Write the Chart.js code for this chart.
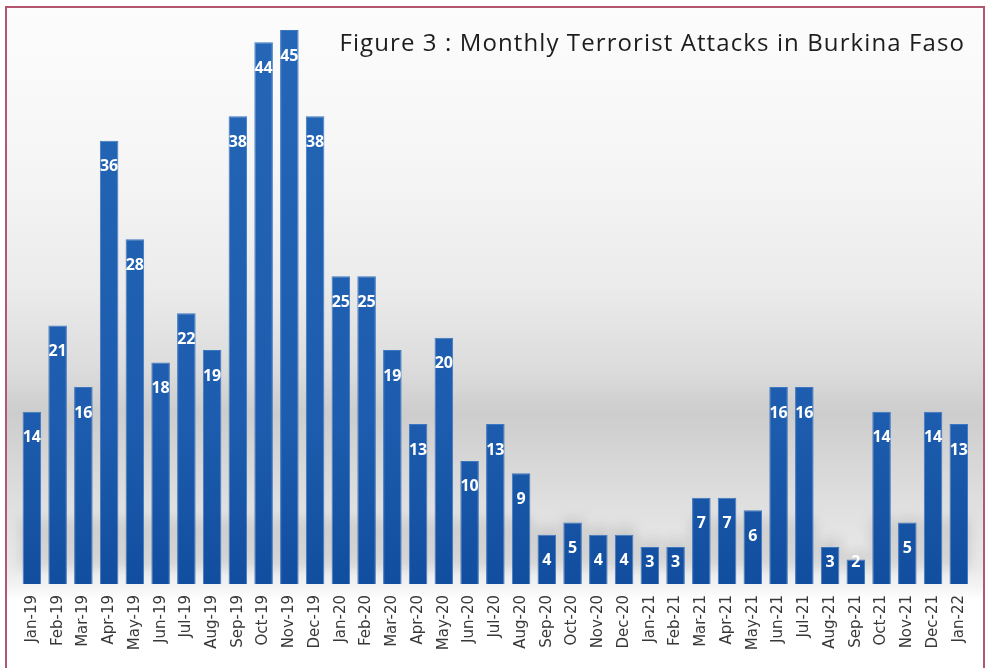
<!DOCTYPE html>
<html>
<head>
<meta charset="utf-8">
<title>Monthly Terrorist Attacks in Burkina Faso</title>
<script src="https://cdn.jsdelivr.net/npm/chart.js@4/dist/chart.umd.min.js"></script>
<style>
  html, body { margin: 0; padding: 0; background: #fff; }
  #page {
    position: relative; width: 988px; height: 668px; overflow: hidden;
    background: #fff;
  }
  #panel {
    position: absolute; left: 5px; top: 6px; width: 980px; height: 680px;
    box-sizing: border-box; border: 2px solid #b3566f;
    background: linear-gradient(to bottom,
      #fcfcfc 0px, #f6f6f6 150px, #ebebeb 280px, #dcdcdc 360px,
      #cdcdcd 405px, #d4d4d4 440px, #e0e0e0 500px, #eaeaea 560px,
      #f3f3f3 578px, #ffffff 592px, #ffffff 680px);
  }
  #title {
    position: absolute; right: 23px; top: 25px;
    font-family: "Open Sans", sans-serif; font-size: 24px; color: #1d1d1d;
    letter-spacing: 1.1px; white-space: nowrap;
  }
  #box { position: absolute; left: 0; top: 0; width: 988px; height: 668px; }
</style>
</head>
<body>
<div id="page">
  <div id="panel"></div>
  <div id="box"><canvas id="attacks" width="988" height="668"></canvas></div>
  <div id="title">Figure 3 : Monthly Terrorist Attacks in Burkina Faso</div>
</div>
<script>
const months = [
  'Jan-19','Feb-19','Mar-19','Apr-19','May-19','Jun-19','Jul-19','Aug-19','Sep-19','Oct-19','Nov-19','Dec-19',
  'Jan-20','Feb-20','Mar-20','Apr-20','May-20','Jun-20','Jul-20','Aug-20','Sep-20','Oct-20','Nov-20','Dec-20',
  'Jan-21','Feb-21','Mar-21','Apr-21','May-21','Jun-21','Jul-21','Aug-21','Sep-21','Oct-21','Nov-21','Dec-21',
  'Jan-22'
];
const attacks = [
  14, 21, 16, 36, 28, 18, 22, 19, 38, 44, 45, 38,
  25, 25, 19, 13, 20, 10, 13, 9, 4, 5, 4, 4,
  3, 3, 7, 7, 6, 16, 16, 3, 2, 14, 5, 14,
  13
];
const yMax = 45;

// soft grey smear at the foot of the bars
const barShadow = {
  id: 'barShadow',
  beforeDatasetsDraw(chart) {
    const ctx = chart.ctx;
    const meta = chart.getDatasetMeta(0);
    ctx.save();
    ctx.filter = 'blur(6px)';
    ctx.fillStyle = 'rgba(40,40,40,0.13)';
    meta.data.forEach(bar => {
      const half = bar.width / 2 + 2;
      const top = Math.max(bar.y - 8, bar.base - 65);
      ctx.fillRect(bar.x - half, top, half * 2, bar.base - 16 - top);
    });
    ctx.restore();
  }
};

// white value printed inside each bar near its top
const valueLabels = {
  id: 'valueLabels',
  afterDatasetsDraw(chart) {
    const ctx = chart.ctx;
    const meta = chart.getDatasetMeta(0);
    const vals = chart.data.datasets[0].data;
    ctx.save();
    ctx.font = 'bold 16px "Open Sans", sans-serif';
    ctx.fillStyle = '#ffffff';
    ctx.textAlign = 'center';
    ctx.textBaseline = 'middle';
    meta.data.forEach((bar, i) => {
      const cy = Math.min(bar.y + 26, bar.base - 22);
      ctx.fillText(String(vals[i]), bar.x, cy);
    });
    ctx.restore();
  }
};

const ctx = document.getElementById('attacks').getContext('2d');
new Chart(ctx, {
  type: 'bar',
  data: {
    labels: months,
    datasets: [{
      data: attacks,
      backgroundColor(c) {
        const area = c.chart.chartArea;
        if (!area) return '#1f5eb0';
        const g = c.chart.ctx.createLinearGradient(0, area.top, 0, area.bottom);
        g.addColorStop(0, '#2566b6');
        g.addColorStop(0.7, '#1d5cae');
        g.addColorStop(1, '#124e9f');
        return g;
      },
      borderColor: '#3d77c0',
      borderWidth: 1,
      borderSkipped: 'bottom',
      barPercentage: 0.72,
      categoryPercentage: 1.0
    }]
  },
  options: {
    responsive: false,
    animation: false,
    devicePixelRatio: 1,
    layout: { padding: { left: 19, right: 14, top: 30, bottom: 0 } },
    plugins: { legend: { display: false }, tooltip: { enabled: false } },
    scales: {
      x: {
        grid: { display: false, drawTicks: false },
        border: { display: false },
        ticks: {
          color: '#383838',
          font: { family: '"DejaVu Sans", sans-serif', size: 15 },
          minRotation: 90, maxRotation: 90,
          autoSkip: false,
          padding: 11
        },
        afterFit(scale) { scale.height = 84; }
      },
      y: {
        display: false,
        min: 0, max: yMax
      }
    }
  },
  plugins: [barShadow, valueLabels]
});
</script>
</body>
</html>
